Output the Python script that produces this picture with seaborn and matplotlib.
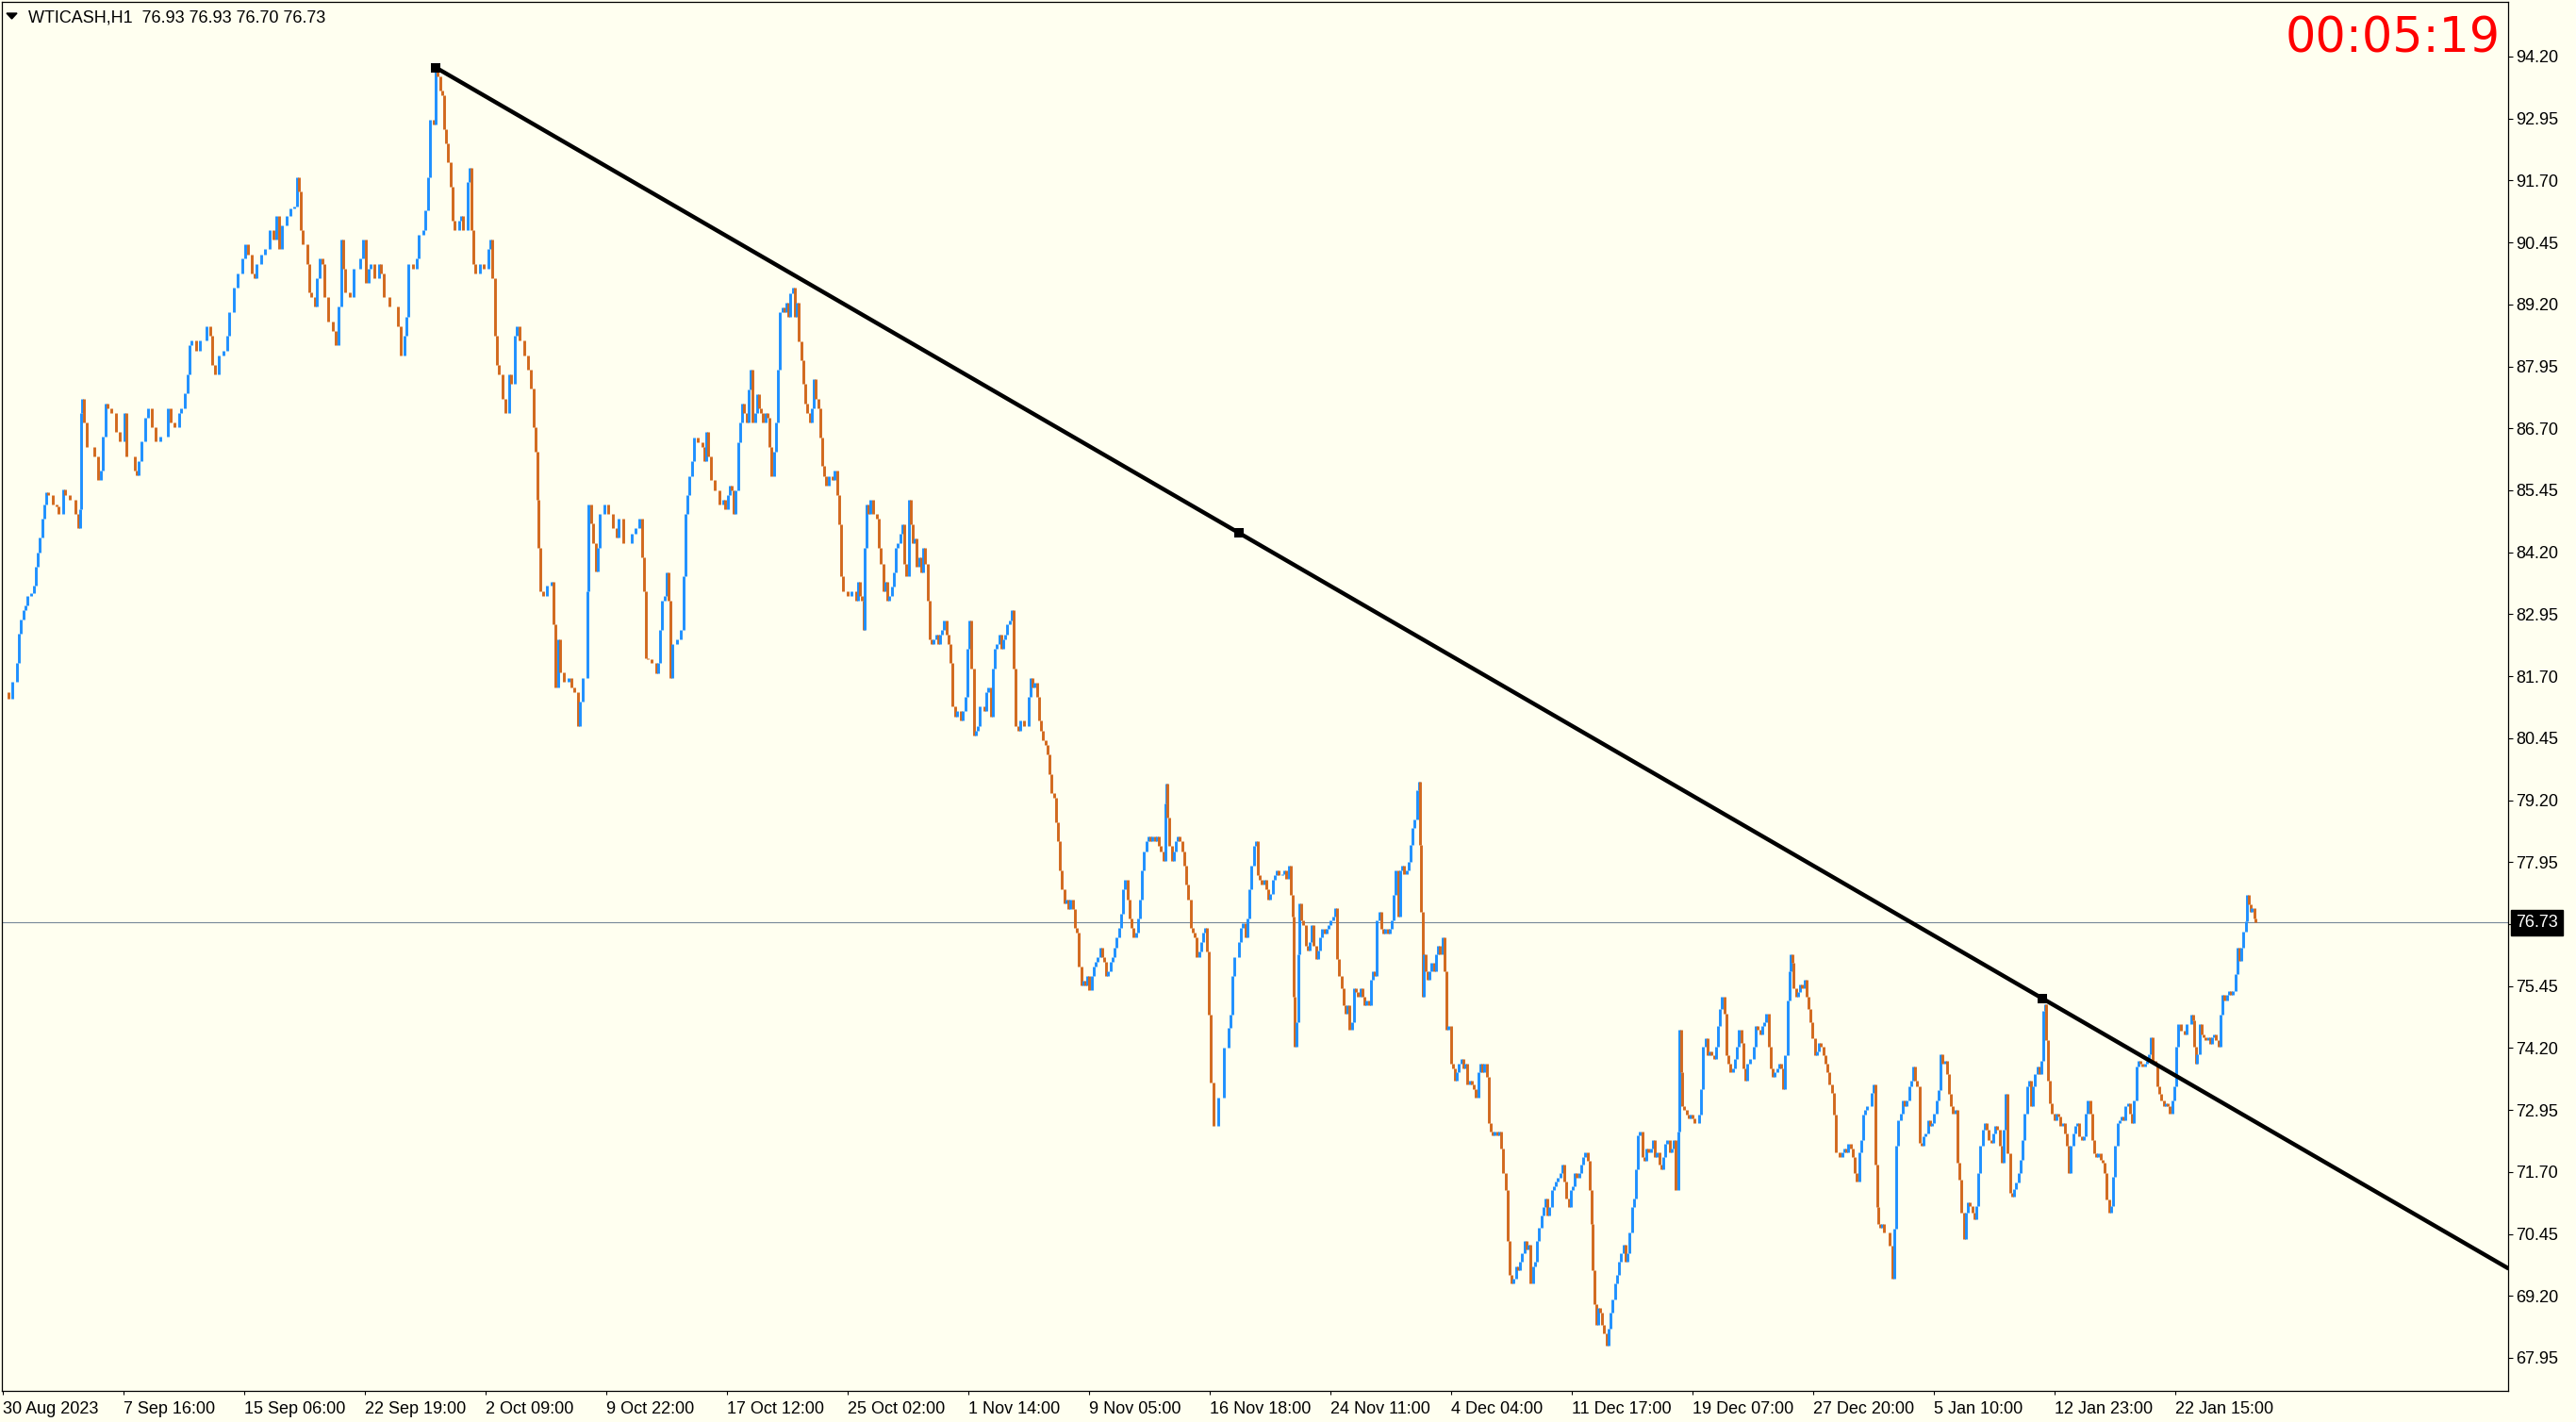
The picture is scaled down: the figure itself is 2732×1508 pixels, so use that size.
import numpy as np
import pandas as pd
import seaborn as sns
import matplotlib
matplotlib.use("Agg")
import matplotlib.pyplot as plt
from matplotlib.patches import Polygon

# WTICASH H1 closes (x = bar number, about 1 bar per pixel)
bars_sep = [4, 9, 13, 18, 20, 22, 25, 27, 29, 33, 36, 38, 40, 42, 45, 47, 49, 51, 56, 60, 62, 67, 69, 74, 78, 80, 83, 85,
            86, 87, 89, 92, 96, 100, 104, 107, 109, 112, 114, 118, 123, 127, 132, 134, 138, 143, 145, 147, 150, 154, 157,
            161, 165, 170, 174, 178, 181, 185, 190, 192, 196, 199, 201, 203, 208, 212, 217, 219, 223, 225, 228, 232, 237,
            241, 243, 248, 252, 257, 260, 263, 267, 270, 272, 277, 281, 286, 290, 293, 296, 299, 304, 308, 312, 315, 317,
            319, 321, 326, 328, 330, 334, 336, 339, 342, 344, 348, 353, 356, 359, 362, 364, 366, 371, 375, 379, 382, 385,
            388, 391, 393, 397, 402, 404, 407, 410, 413, 417, 422, 425, 429, 431, 433, 438, 442, 444, 449, 451, 454, 456,
            460, 462, 464, 467, 469, 471, 473, 475, 478, 480, 482, 487, 489, 491, 495, 496, 498, 500, 502, 504, 509, 513,
            518, 520, 522, 525, 527, 529, 533, 536, 540, 542, 546, 548, 551, 556, 560, 563, 566, 568, 570, 571, 573, 576,
            580, 585, 587, 589, 592, 594, 598, 603, 606, 609, 613, 615, 618, 621, 623, 624, 627, 629, 632, 634, 636, 641,
            645, 650, 654, 656, 661, 665, 670, 674, 678]
close_sep = [81.38, 81.24, 81.58, 81.96, 82.55, 82.84, 83.03, 83.13, 83.32, 83.37, 83.52, 83.90, 84.20, 84.49, 84.88,
             85.17, 85.41, 85.36, 85.17, 85.12, 84.97, 85.46, 85.36, 85.26, 85.26, 84.97, 84.68, 85.07, 87.01, 87.30,
             86.82, 86.33, 86.33, 86.14, 85.65, 85.85, 86.53, 87.20, 87.11, 87.01, 86.62, 86.43, 87.01, 86.14, 86.14,
             85.85, 85.75, 86.04, 86.43, 86.91, 87.11, 86.72, 86.43, 86.53, 86.53, 87.11, 86.82, 86.72, 87.01, 87.11,
             87.40, 87.79, 88.37, 88.47, 88.27, 88.47, 88.47, 88.76, 88.56, 87.98, 87.79, 88.17, 88.27, 88.56, 89.05,
             89.53, 89.82, 90.12, 90.41, 90.21, 89.82, 89.73, 90.02, 90.21, 90.31, 90.70, 90.50, 90.99, 90.31, 90.80,
             90.99, 91.13, 91.18, 91.77, 91.47, 90.70, 90.41, 90.02, 89.44, 89.34, 89.15, 89.73, 90.12, 90.02, 89.34,
             88.85, 88.66, 88.37, 89.15, 90.50, 89.92, 89.44, 89.34, 89.92, 89.92, 90.12, 90.50, 89.63, 89.92, 90.02,
             89.73, 90.02, 89.82, 89.34, 89.34, 89.15, 89.15, 88.76, 88.17, 88.56, 88.95, 90.02, 89.92, 90.12, 90.60,
             90.70, 91.09, 91.77, 92.93, 92.83, 93.95, 93.80, 93.51, 93.42, 92.74, 92.45, 92.06, 91.57, 90.89, 90.70,
             90.89, 90.99, 90.70, 90.70, 91.67, 91.96, 90.70, 90.02, 89.82, 90.02, 89.92, 90.31, 90.50, 89.73, 88.56,
             87.98, 87.79, 87.30, 87.01, 87.79, 87.59, 88.56, 88.76, 88.47, 88.17, 87.88, 87.50, 86.72, 86.23, 85.26,
             84.29, 83.42, 83.32, 83.52, 83.61, 82.74, 81.48, 82.45, 81.77, 81.58, 81.67, 81.48, 81.38, 80.70, 81.19,
             81.67, 81.67, 83.42, 85.17, 84.78, 84.39, 83.81, 84.29, 84.97, 85.17, 84.97, 84.68, 84.49, 84.88, 84.39,
             84.39, 84.58, 84.68, 84.88]

bars_oct = [681, 683, 685, 687, 691, 696, 698, 700, 702, 705, 707, 709, 711, 713, 718, 722, 725, 727, 729, 731, 734, 736,
            740, 745, 747, 749, 751, 754, 758, 763, 767, 769, 772, 774, 776, 778, 780, 783, 785, 787, 789, 792, 794, 796,
            798, 801, 803, 805, 807, 809, 812, 814, 816, 818, 821, 823, 825, 827, 830, 832, 834, 836, 838, 841, 843, 845,
            847, 850, 852, 854, 856, 859, 861, 863, 865, 868, 870, 872, 874, 876, 879, 883, 885, 888, 890, 892, 894, 899,
            903, 908, 910, 912, 914, 916, 917, 919, 921, 923, 926, 928, 930, 932, 934, 937, 939, 941, 943, 946, 948, 950,
            952, 955, 957, 959, 961, 964, 966, 968, 970, 972, 975, 977, 979, 981, 984, 986, 988, 990, 993, 995, 997, 999,
            1001, 1004, 1006, 1008, 1010, 1013, 1015, 1017, 1019, 1021, 1024, 1026, 1028, 1030, 1033, 1035, 1037, 1039,
            1042, 1044, 1046, 1048, 1051, 1053, 1055, 1057, 1060, 1062, 1064, 1066, 1068, 1071, 1073, 1075, 1077, 1080,
            1082, 1086, 1091, 1093, 1095, 1097, 1100, 1102, 1104, 1106, 1109, 1111, 1113, 1115, 1118, 1120, 1122, 1124,
            1126, 1129, 1131, 1133, 1135, 1138, 1140, 1142, 1144, 1147, 1149, 1151, 1153, 1155, 1158, 1160, 1162, 1164,
            1167, 1169, 1171, 1173, 1175, 1178, 1180, 1182, 1184, 1187, 1189, 1191, 1193, 1196, 1198, 1200, 1202, 1205,
            1207, 1209, 1211, 1213, 1216, 1218, 1220, 1222, 1225, 1227, 1229, 1231, 1234, 1236, 1237, 1238, 1240, 1243,
            1245, 1247, 1249, 1251, 1254, 1256, 1258, 1260, 1263, 1265, 1267, 1269, 1272, 1274, 1276, 1278, 1280, 1282,
            1284, 1287, 1292, 1298, 1303, 1305, 1307, 1309, 1314, 1316, 1318, 1321, 1323, 1325, 1327, 1330, 1332, 1334,
            1336, 1338, 1341, 1343, 1345, 1347, 1350, 1352, 1354, 1356]
close_oct = [84.10, 83.42, 82.06, 82.05, 81.96, 81.76, 81.96, 82.64, 83.22, 83.32, 83.80, 83.22, 81.67, 82.35, 82.45,
             82.64, 83.71, 84.97, 85.36, 85.74, 86.04, 86.52, 86.42, 86.33, 86.04, 86.62, 86.13, 85.65, 85.45, 85.16,
             85.26, 85.06, 85.36, 85.55, 85.45, 84.97, 85.45, 86.42, 86.81, 87.20, 87.01, 86.81, 87.49, 87.88, 86.81,
             87.01, 87.39, 87.10, 87.01, 86.81, 87.01, 86.91, 86.33, 85.74, 86.23, 86.81, 87.88, 89.04, 89.14, 89.04,
             89.24, 88.95, 89.43, 89.53, 88.95, 89.24, 88.46, 88.07, 87.59, 87.20, 87.01, 86.81, 87.10, 87.69, 87.30,
             87.10, 86.52, 85.94, 85.74, 85.55, 85.74, 85.65, 85.84, 85.36, 84.77, 83.71, 83.42, 83.32, 83.42, 83.22,
             83.61, 83.32, 83.22, 82.64, 84.29, 85.16, 84.97, 85.26, 84.97, 84.97, 84.87, 84.29, 83.97, 83.42, 83.61,
             83.22, 83.32, 83.51, 83.80, 84.29, 84.38, 84.58, 84.77, 83.97, 83.71, 85.26, 84.77, 84.38, 84.48, 83.90,
             84.10, 83.80, 84.29, 83.97, 83.22, 82.45, 82.35, 82.45, 82.54, 82.35, 82.54, 82.64, 82.83, 82.54, 82.35,
             81.96, 81.09, 80.89, 80.99, 80.99, 80.80, 80.99, 81.28, 82.25, 82.83, 81.86, 80.50, 80.60, 80.70, 81.09,
             81.09, 80.99, 81.38, 81.47, 80.89, 81.86, 82.25, 82.35, 82.54, 82.25, 82.45, 82.54, 82.74, 82.83, 83.03,
             81.86, 80.70, 80.60, 80.80, 80.70, 81.28, 81.67, 81.47, 81.57, 81.28, 80.80, 80.60, 80.41, 80.31, 80.12,
             79.73, 79.34, 79.24, 78.76, 78.37, 77.79, 77.40, 77.11, 77.20, 77.01, 77.20, 77.01, 76.62, 76.52, 75.85,
             75.46, 75.55, 75.46, 75.65, 75.36, 75.65, 75.85, 75.94, 76.04, 76.23, 76.04, 75.94, 75.65, 75.75, 75.94,
             76.04, 76.23, 76.43, 76.62, 76.91, 77.40, 77.59, 77.20, 76.82, 76.62, 76.43, 76.52, 76.82, 77.20, 77.79,
             78.17, 78.37, 78.46, 78.37, 78.46, 78.37, 78.46, 78.27, 78.17, 77.98, 79.14, 79.53, 78.85, 78.27, 77.98,
             78.17, 78.37, 78.46, 78.37, 78.17, 77.88, 77.50, 77.20, 76.62, 76.52, 76.43, 76.04, 76.14, 76.33, 76.52,
             76.62, 76.14, 74.88, 73.50, 72.62, 73.20, 74.20, 74.60, 74.88, 75.65, 76.04, 76.33, 76.62, 76.72, 76.43,
             76.82, 77.40, 77.88, 78.27, 78.37, 77.69, 77.59, 77.50, 77.59, 77.40, 77.20, 77.30, 77.59, 77.69, 77.79,
             77.69]

bars_dec = [1360, 1362, 1364, 1367, 1369, 1371, 1372, 1373, 1375, 1377, 1378, 1380, 1382, 1385, 1387, 1389, 1391, 1393,
            1396, 1398, 1400, 1402, 1405, 1407, 1409, 1411, 1414, 1416, 1418, 1420, 1423, 1425, 1427, 1429, 1431, 1434,
            1436, 1438, 1440, 1443, 1445, 1447, 1449, 1452, 1454, 1456, 1458, 1460, 1463, 1465, 1467, 1469, 1472, 1474,
            1476, 1478, 1480, 1483, 1485, 1487, 1489, 1492, 1494, 1496, 1498, 1500, 1503, 1505, 1506, 1507, 1509, 1510,
            1512, 1514, 1516, 1518, 1521, 1523, 1525, 1527, 1530, 1532, 1534, 1536, 1539, 1541, 1543, 1545, 1547, 1550,
            1552, 1554, 1556, 1559, 1561, 1563, 1565, 1568, 1570, 1572, 1574, 1577, 1579, 1581, 1583, 1585, 1588, 1590,
            1592, 1594, 1597, 1599, 1601, 1603, 1605, 1608, 1610, 1612, 1614, 1617, 1619, 1621, 1623, 1626, 1628, 1630,
            1632, 1635, 1637, 1639, 1641, 1643, 1646, 1648, 1650, 1652, 1655, 1657, 1659, 1661, 1664, 1666, 1668, 1670,
            1672, 1675, 1677, 1679, 1681, 1684, 1686, 1688, 1689, 1691, 1693, 1695, 1697, 1699, 1701, 1704, 1706, 1708,
            1710, 1713, 1715, 1717, 1719, 1722, 1724, 1726, 1728, 1731, 1733, 1735, 1737, 1739, 1742, 1744, 1746, 1748,
            1751, 1753, 1755, 1757, 1760, 1762, 1764, 1766, 1768, 1771, 1773, 1775, 1777, 1780, 1781, 1783, 1784, 1786,
            1789, 1791, 1793, 1795, 1797, 1800, 1802, 1804, 1806, 1809, 1811, 1813, 1815, 1818, 1820, 1822, 1824, 1826,
            1829, 1831, 1833, 1835, 1838, 1840, 1842, 1844, 1847, 1849, 1851, 1853, 1856, 1858, 1860, 1862, 1864, 1867,
            1869, 1871, 1873, 1876, 1878, 1880, 1882, 1885, 1887, 1889, 1891, 1893, 1896, 1898, 1899, 1901, 1902, 1905,
            1907, 1909, 1911, 1914, 1916, 1918, 1920, 1922, 1925, 1927, 1929, 1931, 1934, 1936, 1938, 1940, 1943, 1945,
            1947, 1949, 1951, 1954, 1956, 1958, 1960, 1963, 1965, 1967, 1969, 1972, 1974, 1976, 1978, 1980, 1982, 1985,
            1987, 1989, 1991, 1992, 1994, 1996, 1998]
close_dec = [77.70, 77.79, 77.62, 77.87, 77.28, 76.85, 75.24, 74.22, 74.73, 76.09, 77.11, 76.77, 76.68, 76.26, 76.17,
             76.34, 76.68, 76.26, 76.00, 76.17, 76.43, 76.60, 76.51, 76.60, 76.68, 76.77, 76.85, 77.02, 76.00, 75.66,
             75.41, 75.07, 74.90, 75.07, 74.56, 74.73, 75.41, 75.32, 75.24, 75.41, 75.24, 75.07, 75.15, 75.07, 75.58,
             75.75, 75.66, 76.77, 76.94, 76.60, 76.51, 76.60, 76.51, 76.60, 76.77, 77.28, 77.79, 76.85, 77.79, 77.87,
             77.70, 77.79, 77.96, 78.30, 78.64, 78.81, 79.40, 79.57, 78.30, 76.94, 75.24, 76.09, 75.75, 75.58, 75.75,
             75.92, 75.75, 76.09, 76.26, 76.09, 76.43, 75.75, 74.56, 74.64, 73.88, 73.79, 73.54, 73.71, 73.88, 73.97,
             73.79, 73.88, 73.46, 73.54, 73.46, 73.37, 73.20, 73.71, 73.88, 73.71, 73.88, 73.62, 72.69, 72.52, 72.44,
             72.52, 72.44, 72.52, 72.18, 71.67, 71.33, 70.31, 69.63, 69.46, 69.55, 69.80, 69.72, 69.89, 70.06, 70.31,
             70.14, 70.23, 69.46, 69.80, 69.89, 70.31, 70.57, 70.82, 70.99, 71.16, 70.82, 70.99, 71.33, 71.42, 71.50,
             71.59, 71.67, 71.84, 71.50, 71.16, 70.99, 71.33, 71.42, 71.67, 71.59, 71.67, 71.84, 72.01, 72.10, 71.93,
             71.33, 70.65, 69.72, 69.04, 68.61, 68.95, 68.87, 68.61, 68.45, 68.19, 68.53, 68.87, 69.12, 69.46, 69.63,
             69.89, 70.06, 70.23, 69.89, 70.06, 70.48, 70.99, 71.16, 71.76, 72.44, 72.52, 72.01, 71.93, 72.18, 72.10,
             72.18, 72.35, 72.01, 72.10, 71.84, 71.76, 72.01, 72.26, 72.35, 72.10, 72.18, 72.35, 71.33, 72.52, 74.56,
             73.71, 73.03, 72.95, 72.86, 72.78, 72.86, 72.78, 72.69, 72.69, 72.86, 73.37, 74.22, 74.39, 74.05, 74.14,
             74.05, 73.97, 74.22, 74.64, 74.98, 75.24, 74.90, 74.05, 73.88, 73.71, 73.79, 73.97, 74.22, 74.56, 74.31,
             73.79, 73.54, 73.88, 73.97, 73.97, 74.22, 74.64, 74.56, 74.47, 74.64, 74.73, 74.90, 74.22, 73.79, 73.62,
             73.71, 73.79, 73.88, 73.79, 73.37, 74.05, 75.15, 75.75, 76.09, 75.92, 75.41, 75.24, 75.32, 75.49, 75.41,
             75.58, 75.24, 74.98, 74.73, 74.39, 74.05, 74.14, 74.31, 74.22, 74.05, 73.88, 73.71, 73.46, 73.29, 72.86,
             72.10, 72.10, 72.01, 72.10, 72.18, 72.10, 72.26, 72.18, 72.01, 71.67, 71.50, 72.10, 72.35, 72.86, 72.95,
             73.03, 73.03, 73.29, 73.46, 71.84, 70.99, 70.65, 70.57, 70.65, 70.48]

bars_jan = [2000, 2004, 2007, 2009, 2011, 2013, 2016, 2018, 2020, 2022, 2025, 2027, 2029, 2031, 2033, 2036, 2038, 2040,
            2042, 2045, 2047, 2049, 2051, 2054, 2056, 2058, 2060, 2063, 2065, 2067, 2069, 2071, 2074, 2076, 2078, 2080,
            2083, 2085, 2087, 2089, 2092, 2094, 2096, 2098, 2100, 2103, 2105, 2107, 2109, 2112, 2114, 2116, 2118, 2121,
            2123, 2125, 2127, 2129, 2132, 2134, 2136, 2138, 2141, 2143, 2145, 2147, 2150, 2152, 2154, 2156, 2158, 2161,
            2163, 2165, 2167, 2169, 2170, 2172, 2174, 2176, 2179, 2181, 2183, 2185, 2188, 2190, 2192, 2194, 2196, 2199,
            2201, 2203, 2205, 2208, 2210, 2212, 2214, 2217, 2219, 2221, 2223, 2225, 2228, 2230, 2232, 2234, 2237, 2239,
            2241, 2243, 2246, 2248, 2250, 2252, 2254, 2257, 2259, 2261, 2263, 2266, 2268, 2270, 2272, 2275, 2277, 2279,
            2281, 2283, 2286, 2288, 2290, 2292, 2295, 2297, 2299, 2301, 2304, 2306, 2308, 2310, 2313, 2315, 2317, 2319,
            2321, 2324, 2326, 2327, 2329, 2330, 2333, 2335, 2337, 2339, 2342, 2344, 2346, 2348, 2350, 2353, 2355, 2357,
            2359, 2362, 2364, 2366, 2368, 2371, 2373, 2375, 2377, 2379, 2382, 2383, 2385, 2387, 2388, 2391, 2392]
close_jan = [70.48, 70.21, 69.55, 70.55, 72.22, 72.75, 72.88, 73.15, 73.02, 73.15, 73.42, 73.55, 73.82, 73.55, 73.42,
             72.28, 72.22, 72.42, 72.48, 72.75, 72.62, 72.68, 72.88, 73.15, 73.35, 74.08, 73.88, 73.95, 73.68, 73.28,
             73.02, 72.88, 72.95, 71.88, 71.55, 70.88, 70.35, 70.88, 71.08, 71.01, 70.88, 70.75, 71.01, 71.68, 72.22,
             72.55, 72.68, 72.55, 72.35, 72.28, 72.48, 72.62, 72.55, 72.22, 71.88, 72.55, 73.28, 72.08, 71.28, 71.21,
             71.35, 71.48, 71.68, 71.95, 72.35, 72.88, 73.42, 73.55, 73.02, 73.42, 73.68, 73.82, 73.68, 73.95, 74.95,
             75.08, 74.35, 73.55, 73.08, 72.88, 72.75, 72.88, 72.82, 72.62, 72.68, 72.48, 72.22, 71.68, 72.22, 72.48,
             72.62, 72.68, 72.42, 72.35, 72.42, 72.88, 73.15, 72.88, 72.35, 72.08, 72.01, 72.08, 71.95, 71.88, 71.68,
             71.15, 70.88, 71.01, 71.61, 72.22, 72.68, 72.75, 72.82, 72.75, 73.02, 73.08, 72.88, 72.68, 73.15, 73.82,
             73.95, 73.88, 73.82, 73.88, 73.95, 74.08, 74.42, 73.95, 73.88, 73.42, 73.28, 73.15, 73.02, 73.08, 73.02,
             72.88, 73.15, 73.42, 74.22, 74.68, 74.55, 74.55, 74.48, 74.68, 74.68, 74.88, 74.75, 74.22, 73.88, 74.08,
             74.68, 74.48, 74.42, 74.35, 74.42, 74.28, 74.42, 74.48, 74.35, 74.22, 74.88, 75.28, 75.15, 75.28, 75.35,
             75.28, 75.35, 75.69, 76.22, 75.95, 76.22, 76.55, 76.75, 77.29, 77.09, 76.95, 77.02, 76.82, 76.73]

# trendline anchors (bar, price)
trend_bars = [462, 2166]
trend_prices = [93.98, 75.20]
last_price = 76.73

tick_bars = [3, 131, 259, 387, 515, 643, 771, 899, 1027, 1155, 1283, 1411, 1539, 1667, 1795, 1923, 2051, 2179, 2307]
tick_dates = ["30 Aug 2023", "7 Sep 16:00", "15 Sep 06:00", "22 Sep 19:00", "2 Oct 09:00", "9 Oct 22:00",
              "17 Oct 12:00", "25 Oct 02:00", "1 Nov 14:00", "9 Nov 05:00", "16 Nov 18:00", "24 Nov 11:00",
              "4 Dec 04:00", "11 Dec 17:00", "19 Dec 07:00", "27 Dec 20:00", "5 Jan 10:00", "12 Jan 23:00",
              "22 Jan 15:00"]
price_ticks = [67.95, 69.20, 70.45, 71.70, 72.95, 74.20, 75.45, 76.70, 77.95, 79.20, 80.45, 81.70, 82.95, 84.20,
               85.45, 86.70, 87.95, 89.20, 90.45, 91.70, 92.95, 94.20]

BG = "#FFFFF0"
UP = "#1E90FF"
DOWN = "#D2691E"

sns.set_style("white", {"axes.facecolor": BG, "figure.facecolor": BG})
plt.rcParams["font.family"] = ["Liberation Sans", "DejaVu Sans"]

df = pd.DataFrame({
    "bar": np.concatenate([bars_sep, bars_oct, bars_dec, bars_jan]),
    "close": np.concatenate([close_sep, close_oct, close_dec, close_jan]),
})
df["prev"] = df["close"].shift(1).fillna(df["close"].iloc[0])
df["color"] = np.where(df["close"] >= df["prev"], UP, DOWN)

W, H = 2732, 1508
fig = plt.figure(figsize=(W / 100, H / 100), dpi=100, facecolor=BG)
ax = fig.add_axes([2 / W, 1 - 1475 / H, (2660 - 2) / W, (1475 - 2) / H])
ax.set_facecolor(BG)

ax.vlines(df["bar"], df[["prev", "close"]].min(axis=1), df[["prev", "close"]].max(axis=1),
          colors=df["color"], lw=2.1, zorder=2)

# last price line
ax.axhline(last_price, color="#778899", lw=0.8, zorder=1)

# trend ray with its mid point
slope = (trend_prices[1] - trend_prices[0]) / (trend_bars[1] - trend_bars[0])
x_end = 2660
ray_x = [trend_bars[0], trend_bars[1], x_end]
ray_y = [trend_prices[0], trend_prices[1], trend_prices[1] + slope * (x_end - trend_bars[1])]
sns.lineplot(x=ray_x, y=ray_y, color="black", lw=3.2, ax=ax, zorder=4)
mid = (np.mean(trend_bars), np.mean(trend_prices))
sns.scatterplot(x=[trend_bars[0], mid[0], trend_bars[1]], y=[trend_prices[0], mid[1], trend_prices[1]],
                marker="s", s=42, color="black", edgecolor="black", linewidth=0, ax=ax, zorder=5)

ax.set_xlim(2, 2660)
ax.set_ylim(67.283, 95.303)
ax.set_xlabel("")
ax.set_ylabel("")

ax.yaxis.tick_right()
ax.set_yticks(price_ticks)
ax.set_yticklabels([f"{v:.2f}" for v in price_ticks])
ax.set_xticks(tick_bars)
ax.set_xticklabels(tick_dates)
plt.setp(ax.get_xticklabels(), ha="left")
ax.tick_params(axis="y", which="both", direction="out", length=3.6, width=0.8, pad=2, labelsize=13,
               right=True, left=False, colors="black")
ax.tick_params(axis="x", which="both", direction="out", length=3, width=0.8, pad=5, labelsize=13,
               bottom=True, colors="black")
for s in ax.spines.values():
    s.set_color("black")
    s.set_linewidth(0.9)

# last price tag on the scale
ax.annotate(f"{last_price:.2f}", xy=(1.0, last_price), xycoords=("axes fraction", "data"),
            xytext=(6, 0), textcoords="offset points", ha="left", va="center", fontsize=13, color="white",
            bbox=dict(boxstyle="square,pad=0.28", fc="black", ec="black"), annotation_clip=False, zorder=6)

# header: symbol and OHLC
tri = Polygon([[7 / W, 1 - 14 / H], [18 / W, 1 - 14 / H], [12.5 / W, 1 - 20 / H]], closed=True,
              transform=fig.transFigure, color="black")
fig.add_artist(tri)
fig.text(30 / W, 1 - 23 / H, "WTICASH,H1  76.93 76.93 76.70 76.73", fontsize=13, color="black",
         ha="left", va="baseline")

# bar countdown
fig.text(2652 / W, 1 - 55 / H, "00:05:19", fontsize=36.5, color="#FF0000", ha="right", va="baseline",
         family="DejaVu Sans")

fig.savefig("out.png", dpi=100, facecolor=BG)
